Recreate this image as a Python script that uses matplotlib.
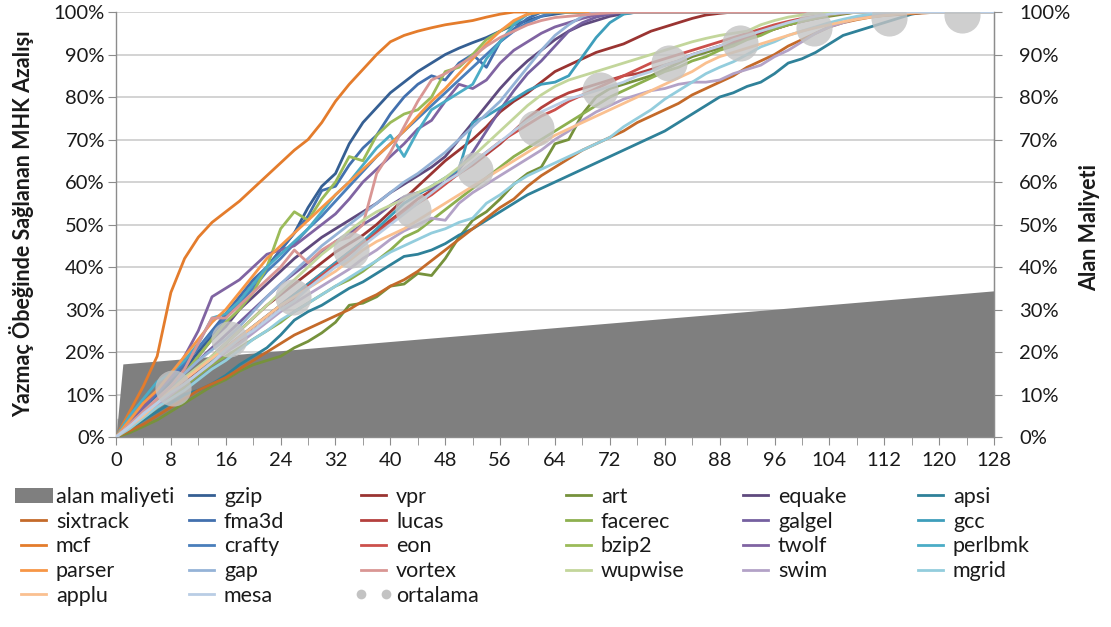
import matplotlib as mpl
import matplotlib.pyplot as plt
from matplotlib.lines import Line2D
from matplotlib.patches import Patch

mpl.use('agg')

# register count (x), values read every 2 steps off the chart
steps = list(range(0, 129, 2))

gzip = [0, 3, 6, 9, 13, 16, 20, 24, 28, 32,
        36, 40, 44, 48, 54, 59, 62, 69, 74, 77.5,
        81, 83.5, 86, 88, 90, 91.5, 92.8, 94, 95.5, 97,
        98, 99, 99.5, 100, 100, 100, 100, 100, 100, 100,
        100, 100, 100, 100, 100, 100, 100, 100, 100, 100,
        100, 100, 100, 100, 100, 100, 100, 100, 100, 100,
        100, 100, 100, 100, 100]
vpr = [0, 2.5, 5, 7.5, 10.5, 13, 16, 19, 22, 25,
       28, 31, 33.5, 36, 38.5, 41, 43.5, 45.5, 47.5, 50,
       53, 56, 59, 62, 65, 67.5, 70, 73, 76.5, 79,
       81, 83.5, 86, 87.5, 89, 90.5, 91.5, 92.5, 94, 95.5,
       96.5, 97.5, 98.5, 99.3, 99.7, 100, 100, 100, 100, 100,
       100, 100, 100, 100, 100, 100, 100, 100, 100, 100,
       100, 100, 100, 100, 100]
art = [0, 1, 2.5, 4, 6, 8, 10, 12, 13.5, 15.5,
       17, 18, 19, 21, 22.5, 24.5, 27, 31, 31.5, 33,
       35.5, 36, 38.5, 38, 42, 47, 51, 53, 56, 59.5,
       62, 63.5, 69, 70, 76, 80, 82, 83, 84, 85,
       86.5, 88, 89.5, 90.5, 91.5, 92.5, 94, 95, 96, 97,
       97.8, 98.5, 99, 99.5, 100, 100, 100, 100, 100, 100,
       100, 100, 100, 100, 100]
equake = [0, 3, 6, 9, 12, 15, 19, 23, 26, 30,
          33, 36, 39, 42, 44.5, 47, 49, 51, 53, 55,
          57.5, 59.5, 61.5, 63.5, 66, 70, 74, 78, 82, 85.5,
          88.5, 91, 93.5, 95.5, 97, 98, 99, 99.6, 100, 100,
          100, 100, 100, 100, 100, 100, 100, 100, 100, 100,
          100, 100, 100, 100, 100, 100, 100, 100, 100, 100,
          100, 100, 100, 100, 100]
apsi = [0, 2, 4, 6, 8, 10, 11, 12.5, 14.5, 17,
        19, 21, 24, 27.5, 29.5, 31, 33, 35, 36.5, 38.5,
        40.5, 42.5, 43, 44, 45.5, 47.5, 49, 51, 53, 55,
        57, 58.5, 60, 61.5, 63, 64.5, 66, 67.5, 69, 70.5,
        72, 74, 76, 78, 80, 81, 82.5, 83.5, 85.5, 88,
        89, 90.5, 92.5, 94.5, 95.5, 96.5, 97.5, 98.5, 99.5, 100,
        100, 100, 100, 100, 100]
sixtrack = [0, 1.5, 3, 5, 7, 9, 11, 12.5, 14, 16,
            18, 20, 22, 24, 25.5, 27, 28.5, 30, 32, 33.5,
            35.5, 37, 39, 41.5, 44, 46.5, 49, 51.5, 54, 56,
            59, 61.5, 63.5, 65.5, 67.5, 69, 70.5, 72, 74, 75.5,
            77, 78.5, 80.5, 82, 83.5, 85, 87, 88.5, 90, 92,
            93.5, 95, 96.5, 97.5, 98.2, 98.8, 99.2, 99.4, 99.6, 99.8,
            100, 100, 100, 100, 100]
fma3d = [0, 3, 7, 10, 14, 17, 21, 25, 29, 33,
         37, 40, 44, 48, 52, 58, 59, 64, 68, 71,
         76, 80, 83, 85, 84, 88, 90, 87, 93, 96,
         98.5, 100, 100, 100, 100, 100, 100, 100, 100, 100,
         100, 100, 100, 100, 100, 100, 100, 100, 100, 100,
         100, 100, 100, 100, 100, 100, 100, 100, 100, 100,
         100, 100, 100, 100, 100]
lucas = [0, 2.5, 5, 8, 11, 13.5, 16, 18.5, 21, 23.5,
         26, 28.5, 31, 33.5, 36, 38.5, 41, 43.5, 46, 48.5,
         51, 53.5, 56, 58, 60, 62, 64, 66.5, 69, 72,
         75, 77.5, 79.5, 81, 82, 83, 84, 85, 85.5, 86.5,
         87.5, 88.5, 90, 91, 92, 93, 94, 95, 96, 97,
         97.8, 98.5, 99.2, 99.7, 100, 100, 100, 100, 100, 100,
         100, 100, 100, 100, 100]
facerec = [0, 2, 4.5, 7, 9.5, 12, 14.5, 17, 19, 21,
           23, 25, 27, 29.5, 31.5, 33.5, 35.5, 37, 39, 41.5,
           44, 47, 48.5, 51, 53.5, 56, 58.5, 61, 63.5, 66,
           68, 70, 72, 74, 76, 78, 80, 81.5, 83, 84.5,
           86, 87, 88.5, 89.5, 91, 92, 93.5, 94.5, 96, 97,
           97.8, 98.5, 99.2, 99.7, 100, 100, 100, 100, 100, 100,
           100, 100, 100, 100, 100]
galgel = [0, 3, 6, 9, 12, 15, 18, 21, 24, 27,
          30, 33, 36, 38.5, 41, 43.5, 46, 48, 50, 52,
          54.5, 56.5, 57.5, 58.5, 60, 63, 67, 72, 77, 81.5,
          85.5, 88.5, 92, 95.5, 97.5, 98.8, 99.5, 100, 100, 100,
          100, 100, 100, 100, 100, 100, 100, 100, 100, 100,
          100, 100, 100, 100, 100, 100, 100, 100, 100, 100,
          100, 100, 100, 100, 100]
gcc = [0, 2.5, 5, 7.5, 10, 12.5, 15, 18, 21, 23.5,
       26, 28.5, 31, 33.5, 36, 38.5, 41, 43.5, 46, 49,
       52, 55, 57, 59, 61, 63, 74, 75.5, 77.5, 79.5,
       81.5, 83, 83.5, 85, 89.5, 94, 97.5, 99.5, 100, 100,
       100, 100, 100, 100, 100, 100, 100, 100, 100, 100,
       100, 100, 100, 100, 100, 100, 100, 100, 100, 100,
       100, 100, 100, 100, 100]
mcf = [0, 6, 12, 19, 34, 42, 47, 50.5, 53, 55.5,
       58.5, 61.5, 64.5, 67.5, 70, 74, 79, 83, 86.5, 90,
       93, 94.5, 95.5, 96.3, 97, 97.5, 98, 98.8, 99.5, 100,
       100, 100, 100, 100, 100, 100, 100, 100, 100, 100,
       100, 100, 100, 100, 100, 100, 100, 100, 100, 100,
       100, 100, 100, 100, 100, 100, 100, 100, 100, 100,
       100, 100, 100, 100, 100]
crafty = [0, 3.5, 7, 10.5, 14, 17.5, 21, 24.5, 28, 31.5,
          35, 39, 42, 45.5, 49, 52, 55.5, 59, 62.5, 66,
          69, 72, 75, 78, 81, 84, 87, 90, 93, 95.5,
          97.5, 99, 100, 100, 100, 100, 100, 100, 100, 100,
          100, 100, 100, 100, 100, 100, 100, 100, 100, 100,
          100, 100, 100, 100, 100, 100, 100, 100, 100, 100,
          100, 100, 100, 100, 100]
eon = [0, 2.5, 5, 7.5, 10, 12.5, 15, 17.5, 20, 22.5,
       25, 27.5, 30, 32.5, 35.5, 38, 40.5, 43, 45.5, 48,
       50.5, 53, 55, 57, 59.5, 62, 64.5, 67, 69.5, 71.5,
       73.5, 75.5, 77, 79, 80.5, 82, 83.5, 85, 86.5, 88,
       89, 90, 91, 92, 93, 94, 95, 96, 97, 97.8,
       98.5, 99, 99.5, 99.8, 100, 100, 100, 100, 100, 100,
       100, 100, 100, 100, 100]
bzip2 = [0, 3, 6, 9, 12, 15, 19, 23, 27, 30,
         34, 40, 49, 53, 51, 56, 60, 66, 65, 71,
         74, 76, 77, 80, 86, 87, 90, 93.5, 95.5, 97.5,
         99.5, 100, 100, 100, 100, 100, 100, 100, 100, 100,
         100, 100, 100, 100, 100, 100, 100, 100, 100, 100,
         100, 100, 100, 100, 100, 100, 100, 100, 100, 100,
         100, 100, 100, 100, 100]
twolf = [0, 3, 7, 11, 14, 19, 25, 33, 35, 37,
         40, 43, 44, 45, 47.5, 50, 52.5, 56, 60, 63,
         66, 69, 72.5, 74.5, 79, 83, 82, 84, 88, 91,
         93, 95, 96.5, 97.5, 98.5, 99.3, 100, 100, 100, 100,
         100, 100, 100, 100, 100, 100, 100, 100, 100, 100,
         100, 100, 100, 100, 100, 100, 100, 100, 100, 100,
         100, 100, 100, 100, 100]
perlbmk = [0, 5, 9, 13, 15, 18, 22, 28, 29, 32,
           36, 40, 43, 46, 49, 53, 57, 60, 64, 68,
           71, 66, 72, 77, 79, 81, 83, 89, 93, 97,
           99.5, 100, 100, 100, 100, 100, 100, 100, 100, 100,
           100, 100, 100, 100, 100, 100, 100, 100, 100, 100,
           100, 100, 100, 100, 100, 100, 100, 100, 100, 100,
           100, 100, 100, 100, 100]
parser = [0, 4, 8, 11, 15, 19, 23, 27, 30, 34,
          38, 42, 45, 48, 51, 54, 57, 60, 63, 66,
          69, 72, 75.5, 79, 82, 85.5, 89, 92.5, 95.5, 98,
          99.5, 100, 100, 100, 100, 100, 100, 100, 100, 100,
          100, 100, 100, 100, 100, 100, 100, 100, 100, 100,
          100, 100, 100, 100, 100, 100, 100, 100, 100, 100,
          100, 100, 100, 100, 100]
gap = [0, 3, 6, 9, 12, 15, 18, 20.5, 23, 26,
       29.5, 33, 36, 39, 42, 45, 47.5, 50, 52.5, 55,
       57.5, 60, 62, 64.5, 67, 70, 73, 76, 79, 83,
       87, 91, 94.5, 97, 99, 100, 100, 100, 100, 100,
       100, 100, 100, 100, 100, 100, 100, 100, 100, 100,
       100, 100, 100, 100, 100, 100, 100, 100, 100, 100,
       100, 100, 100, 100, 100]
vortex = [0, 3, 6, 9, 12, 16, 22, 28, 28, 31,
          34, 37, 40, 44, 41, 44, 46, 47, 50, 62,
          67, 73, 79, 84, 85.5, 87.5, 89.5, 92, 94, 95.5,
          97, 98, 98.7, 99, 99.3, 99.6, 99.8, 100, 100, 100,
          100, 100, 100, 100, 100, 100, 100, 100, 100, 100,
          100, 100, 100, 100, 100, 100, 100, 100, 100, 100,
          100, 100, 100, 100, 100]
wupwise = [0, 2.5, 5, 8, 11, 14, 16.5, 19, 22, 25,
           28, 31, 34, 37, 40, 43, 45.5, 48.5, 51, 53,
           54.5, 56, 57.5, 59, 61, 63.5, 66, 69, 72, 75,
           78, 80.5, 82.5, 84, 85, 86, 87, 88, 89, 90,
           91, 92, 93, 93.8, 94.5, 95, 95.5, 97, 98, 98.8,
           99.3, 99.7, 100, 100, 100, 100, 100, 100, 100, 100,
           100, 100, 100, 100, 100]
swim = [0, 2.5, 5, 7.5, 10, 12.5, 15, 17.5, 20, 22,
        24.5, 27, 29.5, 31.5, 33.5, 35.5, 37.5, 39.5, 42, 44,
        46.5, 48.5, 50, 51.5, 51, 55, 57.5, 59.5, 61.5, 63.5,
        65.5, 67.5, 70, 72, 74.5, 76.5, 78, 79.5, 80.5, 81.5,
        82, 83, 83.5, 83.5, 84, 85.5, 86.5, 87.5, 89.5, 91,
        93, 95, 96.5, 97.5, 98.5, 99.3, 99.7, 100, 100, 100,
        100, 100, 100, 100, 100]
mgrid = [0, 2, 4.5, 7, 9, 11, 13.5, 16, 18, 20.5,
         23, 25, 27.5, 29.5, 31.5, 33.5, 35.5, 37.5, 39.5, 41.5,
         43.5, 45, 46.5, 48, 49, 50.5, 51.5, 55, 57, 59.5,
         61.5, 63, 64.5, 66, 67.5, 69, 70.5, 73, 75, 77,
         79.5, 81.5, 83.5, 85.5, 87, 88.3, 90, 91.8, 93, 94.5,
         95.5, 96.5, 97.5, 98.3, 99, 99.5, 100, 100, 100, 100,
         100, 100, 100, 100, 100]
applu = [0, 2.5, 5, 8, 11, 13.5, 16, 18.5, 21, 23.5,
         26, 28.5, 31, 33, 35, 37, 39, 41.5, 44, 46,
         47.5, 49, 51, 53, 55, 57, 59, 61, 63, 65,
         67, 69, 71, 72.5, 74, 75.5, 77, 78.5, 80, 81.5,
         83, 84.5, 86, 88, 89.5, 90.5, 91.5, 92.5, 93.5, 94.5,
         95.5, 96.3, 97, 97.7, 98.3, 98.8, 99.2, 99.5, 99.8, 100,
         100, 100, 100, 100, 100]
mesa = [0, 2.5, 5.5, 8, 10.5, 12.5, 15, 17.5, 20.5, 23,
        25, 27.5, 30, 32, 35, 37.5, 40, 42, 45, 47.5,
        50, 52.5, 55, 57.5, 60, 62, 64.5, 67, 69.5, 72,
        74.5, 76.5, 78, 79.5, 80.5, 81.5, 82.5, 83.5, 85, 86,
        87.5, 88.5, 90, 91, 92, 93.5, 94.5, 95.5, 96.5, 97.5,
        98.3, 99, 99.5, 99.8, 100, 100, 100, 100, 100, 100,
        100, 100, 100, 100, 100]

# area cost (secondary axis), same 0-100% scale
area_x = [0, 1, 128]
area_y = [0, 17.2, 34.4]

# average markers
ort_x = [0, 8.3, 16.5, 25.8, 34.2, 43.3, 52.3, 61.3, 70.5, 80.6, 91, 101.8, 112.7, 123.4]
ort_y = [0, 11.5, 23, 33, 44, 53.5, 62.8, 72.7, 81.6, 88, 92.8, 96.2, 98.6, 99.3]

x_ticks = list(range(0, 129, 8))
y_ticks = list(range(0, 101, 10))

colors = {
    'gzip': '#355F93', 'fma3d': '#4270AE', 'crafty': '#4A7EBB', 'gap': '#95B3D7', 'mesa': '#B9CDE5',
    'vpr': '#9A3432', 'lucas': '#B4403D', 'eon': '#CC504C', 'vortex': '#D99694',
    'art': '#76923C', 'facerec': '#8DB04F', 'bzip2': '#9BBB59', 'wupwise': '#C3D69B',
    'equake': '#5F4A7E', 'galgel': '#7560A0', 'twolf': '#8064A2', 'swim': '#B3A2C7',
    'apsi': '#2F8199', 'gcc': '#3E9EBB', 'perlbmk': '#4BACC6', 'mgrid': '#93CDDD',
    'sixtrack': '#C46A2A', 'mcf': '#E47C2C', 'parser': '#F79646', 'applu': '#FAC090',
}

series = [('gzip', gzip), ('vpr', vpr), ('art', art), ('equake', equake), ('apsi', apsi),
          ('sixtrack', sixtrack), ('fma3d', fma3d), ('lucas', lucas), ('facerec', facerec),
          ('galgel', galgel), ('gcc', gcc), ('mcf', mcf), ('crafty', crafty), ('eon', eon),
          ('bzip2', bzip2), ('twolf', twolf), ('perlbmk', perlbmk), ('parser', parser),
          ('gap', gap), ('vortex', vortex), ('wupwise', wupwise), ('swim', swim),
          ('mgrid', mgrid), ('applu', applu), ('mesa', mesa)]

plt.rcParams['font.family'] = ['Lato', 'DejaVu Sans']
txt = '#1A1A1A'
axis_c = '#8C8C8C'

fig = plt.figure(figsize=(11.11, 6.27), dpi=100)
ax = fig.add_axes([0.1044, 0.303, 0.7903, 0.6778])

ax.fill_between(area_x, 0, area_y, color='#7F7F7F', lw=0, zorder=2)
ax.plot(ort_x[:1], ort_y[:1], 'o', ms=26, color='#D0D0D0', zorder=1)

handles = {}
for name, vals in series:
    ln, = ax.plot(steps, vals, color=colors[name], lw=2.0, zorder=3, solid_joinstyle='round')
    handles[name] = ln

ax.plot(ort_x[1:], ort_y[1:], 'o', ms=26, color='#C3C3C3', alpha=0.8, mec='none', zorder=5)

ax.set_xlim(0, 128)
ax.set_ylim(0, 100)
ax.set_xticks(x_ticks)
ax.set_xticks(list(range(0, 129, 4)), minor=True)
ax.set_yticks(y_ticks)
ax.set_yticklabels([f'{v}%' for v in y_ticks])
ax.grid(axis='y', color='#D0D0D0', lw=1.3, zorder=0)
ax.set_axisbelow(True)

ax.spines['top'].set_visible(False)
for s in ['left', 'right', 'bottom']:
    ax.spines[s].set_color(axis_c)
    ax.spines[s].set_linewidth(1.0)

ax.tick_params(axis='x', which='both', length=6, color=axis_c, labelsize=14.5, labelcolor=txt, pad=5)
ax.tick_params(axis='y', length=6, color=axis_c, labelsize=14.5, labelcolor=txt, pad=2)

ax2 = ax.twinx()
ax2.set_ylim(0, 100)
ax2.set_yticks(y_ticks)
ax2.set_yticklabels([f'{v}%' for v in y_ticks])
ax2.tick_params(axis='y', length=6, color=axis_c, labelsize=14.5, labelcolor=txt, pad=12)
for s in ['top', 'left', 'bottom']:
    ax2.spines[s].set_visible(False)
ax2.spines['right'].set_color(axis_c)

fig.text(22 / 1111, 1 - 224 / 627, 'Yazmaç Öbeğinde Sağlanan MHK Azalışı', rotation=90,
         ha='center', va='center', fontsize=15.5, fontweight='bold', color=txt)
fig.text(1090 / 1111, 1 - 228 / 627, 'Alan Maliyeti', rotation=90,
         ha='center', va='center', fontsize=15.5, fontweight='bold', color=txt)

# legend: six columns, laid out like the original
area_handle = Patch(facecolor='#7F7F7F', edgecolor='none')
ort_handle = Line2D([], [], ls='none', marker='o', ms=7, color='#C3C3C3', mec='none')
handles['alan maliyeti'] = area_handle
handles['ortalama'] = ort_handle

columns = [['alan maliyeti', 'sixtrack', 'mcf', 'parser', 'applu'],
           ['gzip', 'fma3d', 'crafty', 'gap', 'mesa'],
           ['vpr', 'lucas', 'eon', 'vortex', 'ortalama'],
           ['art', 'facerec', 'bzip2', 'wupwise'],
           ['equake', 'galgel', 'twolf', 'swim'],
           ['apsi', 'gcc', 'perlbmk', 'mgrid']]
col_x = [15, 183, 355, 560, 737, 912]

for cx, names in zip(col_x, columns):
    fig.legend([handles[n] for n in names], names, loc='upper left',
               bbox_to_anchor=(cx / 1111, 1 - 487 / 627), frameon=False,
               fontsize=15.5, handlelength=1.75, handletextpad=0.15, labelspacing=0.22,
               borderaxespad=0, borderpad=0, numpoints=2, labelcolor=txt)

fig.savefig('out.png', dpi=100)
